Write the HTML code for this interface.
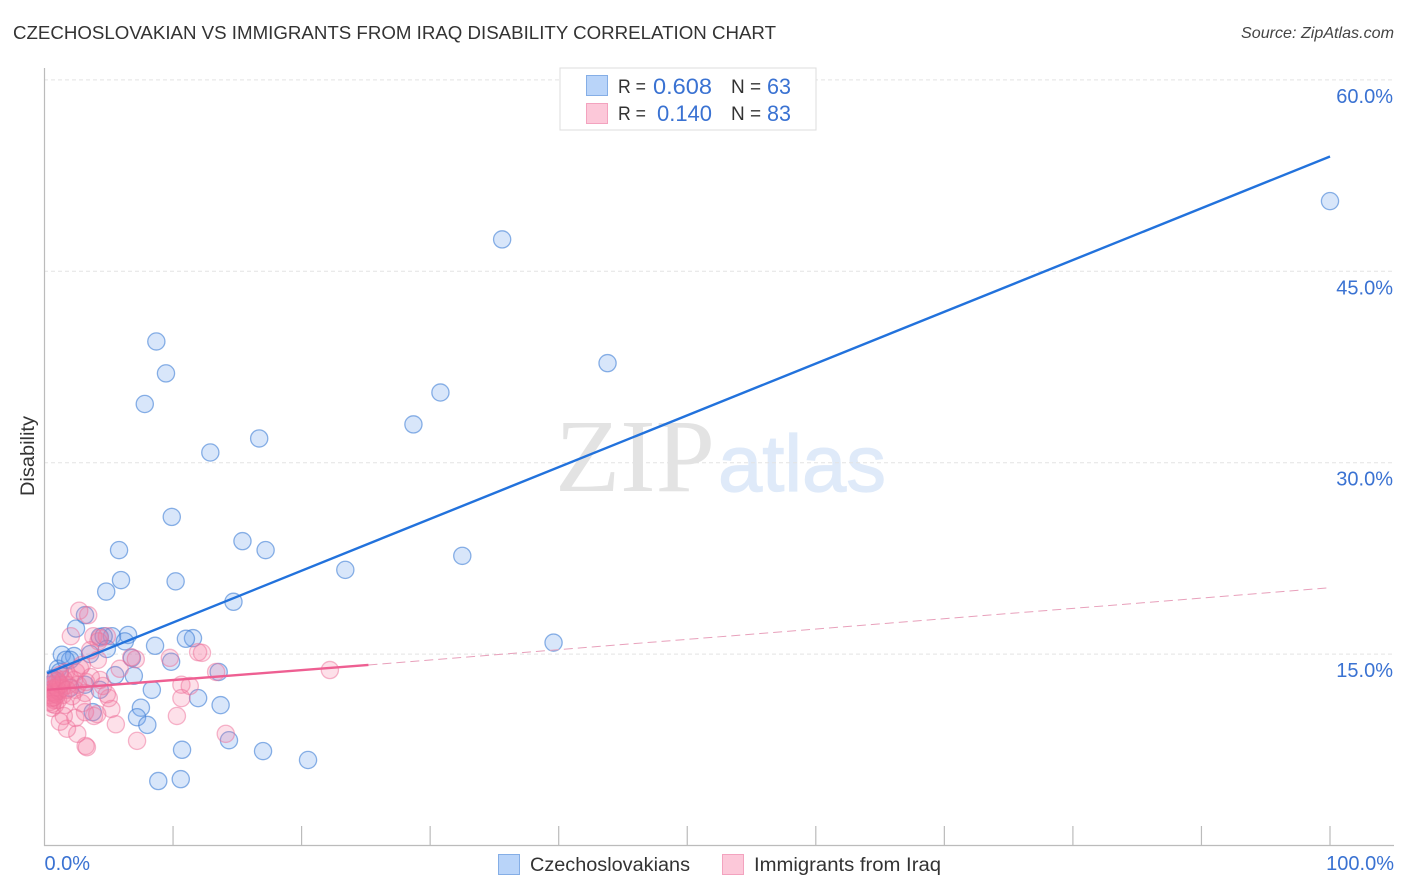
<!DOCTYPE html>
<html lang="en">
<head>
<meta charset="utf-8">
<title>Czechoslovakian vs Immigrants from Iraq Disability Correlation Chart</title>
<style>
html,body{margin:0;padding:0;background:#fff;}
svg{display:block;font-family:"Liberation Sans",sans-serif;}
</style>
</head>
<body>
<svg id="chart" width="1406" height="892" viewBox="0 0 1406 892" xmlns="http://www.w3.org/2000/svg">
  <defs>
    <clipPath id="plot-clip"><rect x="46.5" y="60" width="1350" height="785"/></clipPath>
  </defs>
  <text x="13" y="39" font-size="18" fill="#333" textLength="763" lengthAdjust="spacingAndGlyphs">CZECHOSLOVAKIAN VS IMMIGRANTS FROM IRAQ DISABILITY CORRELATION CHART</text>
  <text x="1241" y="38" font-size="16" font-style="italic" fill="#444" textLength="153" lengthAdjust="spacingAndGlyphs">Source: ZipAtlas.com</text>
  <text x="555" y="491" font-family="'Liberation Serif',serif" font-size="104" fill="#e3e3e3" textLength="160" lengthAdjust="spacingAndGlyphs">ZIP</text>
  <text x="718" y="491" font-size="80" fill="#dfeaf9" stroke="#dfeaf9" stroke-width="1.2" textLength="168" lengthAdjust="spacingAndGlyphs">atlas</text>
  <g id="grid"></g>
  <line x1="44.5" y1="68" x2="44.5" y2="846" stroke="#bbb" stroke-width="1.2"/>
  <line x1="44" y1="845.5" x2="1394" y2="845.5" stroke="#bbb" stroke-width="1.2"/>
  <g id="xticks"></g>
  <g id="ylabels"></g>
  <g id="xlabels"></g>
  <text transform="translate(34,456) rotate(-90)" font-size="19" fill="#333" text-anchor="middle" textLength="80" lengthAdjust="spacingAndGlyphs">Disability</text>
  <g clip-path="url(#plot-clip)">
    <g id="points-blue"></g>
    <g id="points-pink"></g>
    <g id="trends"></g>
  </g>

  <g>
    <rect x="560" y="68" width="256" height="62" fill="#fff" stroke="#ddd" stroke-width="1"/>
    <rect x="586.5" y="75.5" width="21" height="20" fill="#b9d4f9" stroke="#85aee6"/>
    <rect x="586.5" y="103.5" width="21" height="20" fill="#fcc8d9" stroke="#f3a3bf"/>
    <text x="618" y="93" font-size="19" fill="#333" textLength="28" lengthAdjust="spacingAndGlyphs">R =</text>
    <text x="653" y="94" font-size="22" fill="#3a72d2" textLength="59" lengthAdjust="spacingAndGlyphs">0.608</text>
    <text x="731" y="93" font-size="19" fill="#333">N =</text>
    <text x="767" y="94" font-size="22" fill="#3a72d2" textLength="24" lengthAdjust="spacingAndGlyphs">63</text>
    <text x="618" y="120" font-size="19" fill="#333" textLength="28" lengthAdjust="spacingAndGlyphs">R =</text>
    <text x="657" y="121" font-size="22" fill="#3a72d2" textLength="55" lengthAdjust="spacingAndGlyphs">0.140</text>
    <text x="731" y="120" font-size="19" fill="#333">N =</text>
    <text x="767" y="121" font-size="22" fill="#3a72d2" textLength="24" lengthAdjust="spacingAndGlyphs">83</text>
  </g>

  <g>
    <rect x="498.5" y="854.5" width="21" height="20" fill="#b9d4f9" stroke="#85aee6"/>
    <text x="530" y="871" font-size="19" fill="#333" textLength="160" lengthAdjust="spacingAndGlyphs">Czechoslovakians</text>
    <rect x="722.5" y="854.5" width="21" height="20" fill="#fcc8d9" stroke="#f3a3bf"/>
    <text x="754" y="871" font-size="19" fill="#333" textLength="187" lengthAdjust="spacingAndGlyphs">Immigrants from Iraq</text>
  </g>
</svg>
<script>
const yTickValues = [15, 30, 45, 60];
const yTickLabels = ["15.0%", "30.0%", "45.0%", "60.0%"];
const xTickValues = [10, 20, 30, 40, 50, 60, 70, 80, 90, 100];
const xEndValues = [0, 100];
const xEndLabels = ["0.0%", "100.0%"];

const czechX = [100,35.6,43.8,30.8,28.7,8.7,9.45,7.8,16.7,12.9,9.9,15.4,17.2,5.8,32.5,23.4,5.95,10.2,4.8,14.7,3.15,2.45,39.6,11.55,11.0,6.5,5.25,4.3,4.6,6.25,8.6,4.85,1.35,2.3,3.55,2.0,9.85,6.8,13.55,6.95,5.5,1.05,0.6,0.45,0.8,3.15,8.35,4.3,11.95,13.7,7.5,7.2,8.0,3.75,14.35,10.7,17.0,20.5,10.6,8.85,1.2,2.0,1.65];
const czechY = [50.5,47.5,37.8,35.5,33.0,39.5,37.0,34.6,31.9,30.8,25.75,23.85,23.15,23.15,22.7,21.6,20.8,20.7,19.9,19.1,18.05,17.0,15.9,16.25,16.2,16.5,16.4,16.35,16.4,16.0,15.65,15.4,14.95,14.85,15.0,14.55,14.4,14.7,13.6,13.3,13.35,13.85,13.1,12.6,12.95,12.6,12.2,12.2,11.55,11.0,10.8,10.05,9.45,10.45,8.25,7.5,7.4,6.7,5.2,5.05,13.6,12.35,14.55];

const iraqX = [2.7,3.4,2.05,3.8,4.3,4.85,4.2,6.75,7.1,9.75,11.95,12.25,3.55,4.15,2.9,5.85,22.2,13.35,10.65,11.3,10.65,10.3,14.1,7.2,3.2,3.3,2.55,1.75,1.2,5.55,5.2,5.0,4.55,4.85,3.85,4.1,3.15,2.4,2.9,1.5,2.4,3.15,0.58,0.74,0.43,0.5,0.66,0.89,1.13,1.2,1.67,1.98,2.3,1.44,1.05,1.83,2.45,2.76,0.82,0.58,0.74,0.43,0.97,1.36,0.89,1.6,2.14,3.23,4.32,0.5,0.66,0.8,0.95,1.1,1.25,0.6,0.7,1.0,1.5,1.75,2.6,3.6,0.55];
const iraqY = [18.4,18.05,16.4,16.4,16.25,16.4,16.0,14.75,14.6,14.7,15.15,15.1,15.3,14.55,14.15,13.85,13.75,13.6,12.6,12.5,11.55,10.15,8.75,8.2,7.8,7.7,8.75,9.15,9.7,9.5,10.7,11.55,12.5,11.85,10.15,10.3,10.45,10.0,11.15,10.15,12.2,11.95,10.78,11.4,11.8,12.19,12.58,12.19,12.73,13.36,13.6,13.13,12.97,11.8,11.4,12.58,13.6,13.91,11.01,11.56,12.03,11.25,11.8,12.34,13.13,11.01,11.7,12.81,12.97,12.0,12.3,11.9,12.4,12.1,12.6,11.1,11.6,12.9,13.0,12.2,12.6,13.2,12.9];

const czechTrendX = [0.2, 100];
const czechTrendY = [13.5, 54.0];
const iraqSolidX = [0.2, 25.2];
const iraqSolidY = [12.2, 14.15];
const iraqDashX = [25.2, 100];
const iraqDashY = [14.15, 20.2];

const NS = "http://www.w3.org/2000/svg";
function xScale(v) { return 44.5 + v * 12.855; }
function yScale(v) { return 845.5 - v * 12.76; }
function make(tag, attrs) {
  const el = document.createElementNS(NS, tag);
  for (const k in attrs) el.setAttribute(k, attrs[k]);
  return el;
}

const grid = document.getElementById("grid");
const yLabelGroup = document.getElementById("ylabels");
yTickValues.forEach(function (v, i) {
  const line = make("line", {x1: 44, x2: 1394, y1: yScale(v), y2: yScale(v), stroke: "#e3e3e3", "stroke-width": 1, "stroke-dasharray": "4 3"});
  
  
  grid.appendChild(line);
  const t = make("text", {x: 1393, y: yScale(v) + 23, "font-size": 20, fill: "#3a72d2", "text-anchor": "end"});
  
  
  t.textContent = yTickLabels[i];
  yLabelGroup.appendChild(t);
});

const xTickGroup = document.getElementById("xticks");
xTickValues.forEach(function (v) {
  const tick = make("line", {x1: xScale(v), x2: xScale(v), y1: 826, y2: 845.5, stroke: "#bbb", "stroke-width": 1.2});
  
  
  xTickGroup.appendChild(tick);
});

const xLabelGroup = document.getElementById("xlabels");
xEndValues.forEach(function (v, i) {
  const t = make("text", {x: i === 0 ? xScale(v) : 1394, y: 870, "font-size": 20, fill: "#3a72d2", "text-anchor": i === 0 ? "start" : "end"});
  
  
  t.textContent = xEndLabels[i];
  xLabelGroup.appendChild(t);
});

const blueGroup = document.getElementById("points-blue");
czechX.forEach(function (v, i) {
  const c = make("circle", {cx: xScale(v), cy: yScale(czechY[i]), r: 8.6, fill: "#6fa3ee", "fill-opacity": 0.27, stroke: "#3f7fd6", "stroke-opacity": 0.6, "stroke-width": 1.3});
  
  
  blueGroup.appendChild(c);
});

const pinkGroup = document.getElementById("points-pink");
iraqX.forEach(function (v, i) {
  const c = make("circle", {cx: xScale(v), cy: yScale(iraqY[i]), r: 8.6, fill: "#f5789f", "fill-opacity": 0.23, stroke: "#ee6f9a", "stroke-opacity": 0.5, "stroke-width": 1.3});
  
  
  pinkGroup.appendChild(c);
});

const trends = document.getElementById("trends");
const blueTrend = make("line", {x1: xScale(czechTrendX[0]), y1: yScale(czechTrendY[0]), x2: xScale(czechTrendX[1]), y2: yScale(czechTrendY[1]), stroke: "#2272dc", "stroke-width": 2.4});


trends.appendChild(blueTrend);
const pinkDash = make("line", {x1: xScale(iraqDashX[0]), y1: yScale(iraqDashY[0]), x2: xScale(iraqDashX[1]), y2: yScale(iraqDashY[1]), stroke: "#e8a0bb", "stroke-width": 1, "stroke-dasharray": "9 5"});


trends.appendChild(pinkDash);
const pinkSolid = make("line", {x1: xScale(iraqSolidX[0]), y1: yScale(iraqSolidY[0]), x2: xScale(iraqSolidX[1]), y2: yScale(iraqSolidY[1]), stroke: "#ee5f92", "stroke-width": 2.4});


trends.appendChild(pinkSolid);
</script>
</body>
</html>
